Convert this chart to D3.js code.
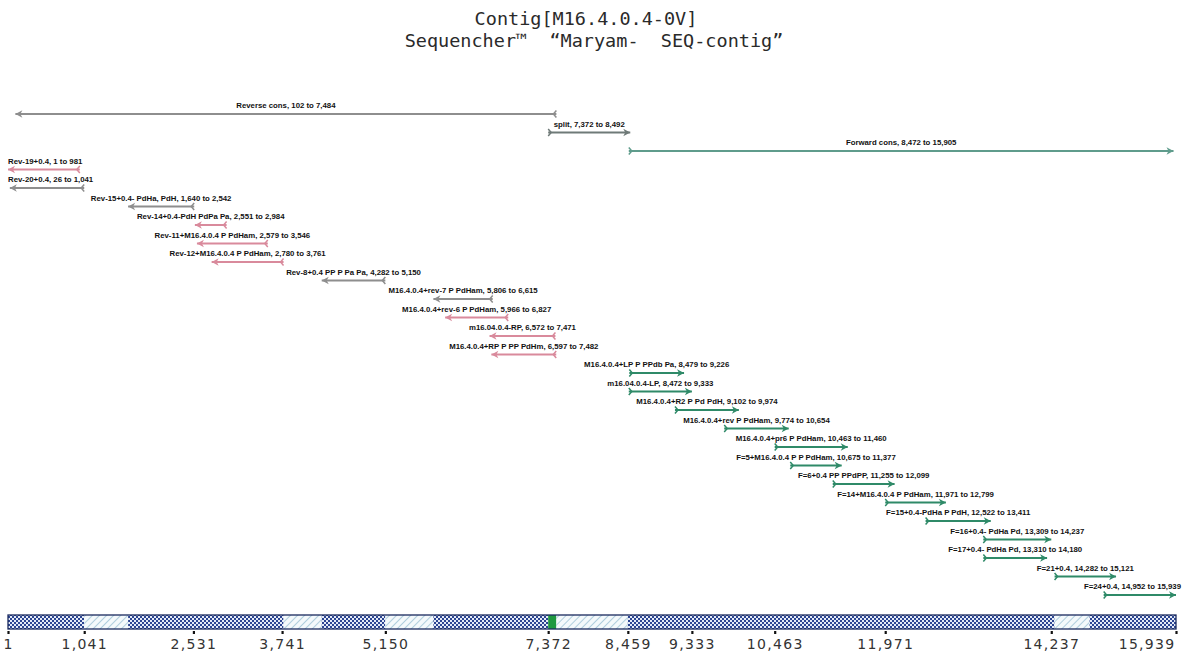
<!DOCTYPE html>
<html>
<head>
<meta charset="utf-8">
<script src="https://cdn.jsdelivr.net/npm/d3@7"></script>
<style>
  html, body { margin: 0; padding: 0; background: #fff; }
  svg { display: block; }
  .title { white-space: pre; }
</style>
</head>
<body>
<svg id="chart" width="1186" height="655"></svg>
<script>
// Contig map: fragment names, base ranges and strand
const fragNames = [
  "Reverse cons", "split", "Forward cons",
  "Rev-19+0.4", "Rev-20+0.4", "Rev-15+0.4- PdHa, PdH",
  "Rev-14+0.4-PdH PdPa Pa", "Rev-11+M16.4.0.4  P PdHam", "Rev-12+M16.4.0.4  P PdHam",
  "Rev-8+0.4 PP P Pa Pa", "M16.4.0.4+rev-7 P  PdHam", "M16.4.0.4+rev-6 P  PdHam",
  "m16.04.0.4-RP", "M16.4.0.4+RP P PP PdHm", "M16.4.0.4+LP P PPdb Pa",
  "m16.04.0.4-LP", "M16.4.0.4+R2  P  Pd PdH", "M16.4.0.4+rev  P  PdHam",
  "M16.4.0.4+pr6  P  PdHam", "F=5+M16.4.0.4 P P PdHam", "F=6+0.4 PP PPdPP",
  "F=14+M16.4.0.4  P  PdHam", "F=15+0.4-PdHa P  PdH", "F=16+0.4-  PdHa  Pd",
  "F=17+0.4-  PdHa  Pd", "F=21+0.4", "F=24+0.4"
];
const fragStart = [
  102, 7372, 8472,
  1, 26, 1640,
  2551, 2579, 2780,
  4282, 5806, 5966,
  6572, 6597, 8479,
  8472, 9102, 9774,
  10463, 10675, 11255,
  11971, 12522, 13309,
  13310, 14282, 14952
];
const fragEnd = [
  7484, 8492, 15905,
  981, 1041, 2542,
  2984, 3546, 3761,
  5150, 6615, 6827,
  7471, 7482, 9226,
  9333, 9974, 10654,
  11460, 11377, 12099,
  12799, 13411, 14237,
  14180, 15121, 15939
];
// r = reverse strand, f = forward strand
const fragStrand = [
  "r", "f", "f",
  "r", "r", "r",
  "r", "r", "r",
  "r", "r", "r",
  "r", "r", "f",
  "f", "f", "f",
  "f", "f", "f",
  "f", "f", "f",
  "f", "f", "f"
];
// colour group of each fragment line
const fragGroup = [
  "grey", "dark", "teal",
  "pink", "grey", "grey",
  "pink", "pink", "pink",
  "grey", "grey", "pink",
  "pink", "pink", "green",
  "green", "green", "green",
  "green", "green", "green",
  "green", "green", "green",
  "green", "green", "green"
];

// Coverage bar segments along the consensus
const segStart = [1, 1041, 1640, 3761, 4282, 5150, 5806, 7372, 7484, 8459, 14282, 14760];
const segEnd   = [1041, 1640, 3761, 4282, 5150, 5806, 7372, 7484, 8459, 14282, 14760, 15939];
const segKind  = ["dense", "light", "dense", "light", "dense", "light", "dense", "mark", "light", "dense", "light", "dense"];

const tickValues = [1, 1041, 2531, 3741, 5150, 7372, 8459, 9333, 10463, 11971, 14237, 15939];

const titleLines = ["Contig[M16.4.0.4-0V]", "Sequencher™  “Maryam-  SEQ-contig”"];

const colors = { grey: "#8e8e8e", pink: "#d98a9c", dark: "#6f7a78", teal: "#5f9c8c", green: "#2f8a68" };

const svg = d3.select("#chart");

const x = d3.scaleLinear().domain([1, 15939]).range([8, 1176]);
const rowY = d3.scalePoint().domain(d3.range(fragNames.length)).range([114, 595]);

// Title
svg.selectAll("text.title")
  .data(titleLines)
  .join("text")
  .attr("class", "title")
  .attr("x", (d, i) => i === 0 ? 586 : 594)
  .attr("y", (d, i) => 25 + i * 22)
  .attr("text-anchor", "middle")
  .attr("font-family", "DejaVu Sans Mono, monospace")
  .attr("font-size", 18.5)
  .attr("fill", "#2a2a2a")
  .text(d => d);

// Fragments
const frags = fragNames.map((n, i) => ({
  name: n, start: fragStart[i], end: fragEnd[i], strand: fragStrand[i], group: fragGroup[i], i
}));
const fmt = d3.format(",");

const g = svg.append("g");
const fg = g.selectAll("g.frag").data(frags).join("g").attr("class", "frag");

fg.append("line")
  .attr("x1", d => x(d.start))
  .attr("x2", d => x(d.end))
  .attr("y1", d => rowY(d.i))
  .attr("y2", d => rowY(d.i))
  .attr("stroke", d => colors[d.group])
  .attr("stroke-width", 1.8);

// arrow head at the leading end
fg.append("path")
  .attr("fill", d => colors[d.group])
  .attr("d", d => {
    const y = rowY(d.i);
    if (d.strand === "f") {
      const e = x(d.end);
      return `M${e},${y} L${e - 7},${y - 3.8} L${e - 5},${y} L${e - 7},${y + 3.8} Z`;
    }
    const s = x(d.start);
    return `M${s},${y} L${s + 7},${y - 3.8} L${s + 5},${y} L${s + 7},${y + 3.8} Z`;
  });

// small fletching at the trailing end
fg.append("path")
  .attr("fill", "none")
  .attr("stroke", d => colors[d.group])
  .attr("stroke-width", 1.5)
  .attr("d", d => {
    const y = rowY(d.i);
    if (d.strand === "f") {
      const s = x(d.start);
      return `M${s},${y - 3.5} L${s + 3},${y} L${s},${y + 3.5}`;
    }
    const e = x(d.end);
    return `M${e},${y - 3.5} L${e - 3},${y} L${e},${y + 3.5}`;
  });

// labels centred over each line, kept inside the plot
fg.append("text")
  .attr("font-family", "Liberation Sans, Arial, sans-serif")
  .attr("font-weight", "bold")
  .attr("font-size", 7.8)
  .attr("fill", "#111")
  .attr("y", d => rowY(d.i) - 6)
  .text(d => `${d.name}, ${fmt(d.start)} to ${fmt(d.end)}`)
  .each(function (d) {
    const w = this.getComputedTextLength();
    let cx = (x(d.start) + x(d.end)) / 2 - w / 2;
    cx = Math.max(8, Math.min(cx, 1181 - w));
    d3.select(this).attr("x", cx);
  });

// Coverage bar patterns
const defs = svg.append("defs");
const dense = defs.append("pattern")
  .attr("id", "dense").attr("patternUnits", "userSpaceOnUse")
  .attr("width", 4).attr("height", 4);
dense.append("rect").attr("width", 4).attr("height", 4).attr("fill", "#e4eaf6");
dense.append("rect").attr("x", 0).attr("y", 0).attr("width", 2).attr("height", 2).attr("fill", "#2c4592");
dense.append("rect").attr("x", 2).attr("y", 2).attr("width", 2).attr("height", 2).attr("fill", "#2c4592");

const light = defs.append("pattern")
  .attr("id", "light").attr("patternUnits", "userSpaceOnUse")
  .attr("width", 5).attr("height", 5)
  .attr("patternTransform", "rotate(45)");
light.append("rect").attr("width", 5).attr("height", 5).attr("fill", "#f4f9fb");
light.append("line").attr("x1", 0).attr("y1", 0).attr("x2", 0).attr("y2", 5)
  .attr("stroke", "#9fc3d6").attr("stroke-width", 1.6);

const barY = 615, barH = 14;
const segs = segStart.map((s, i) => ({ start: s, end: segEnd[i], kind: segKind[i] }));
svg.append("g").selectAll("rect")
  .data(segs)
  .join("rect")
  .attr("x", d => x(d.start))
  .attr("width", d => x(d.end) - x(d.start))
  .attr("y", barY)
  .attr("height", barH)
  .attr("fill", d => d.kind === "dense" ? "url(#dense)" : d.kind === "light" ? "url(#light)" : "#1f9940");

svg.append("rect")
  .attr("x", x(1)).attr("y", barY)
  .attr("width", x(15939) - x(1)).attr("height", barH)
  .attr("fill", "none").attr("stroke", "#1b2a5e").attr("stroke-width", 1.3);

// Axis with dot ticks
const axis = d3.axisBottom(x)
  .tickValues(tickValues)
  .tickFormat(fmt)
  .tickSize(3)
  .tickPadding(4);

const ax = svg.append("g")
  .attr("transform", `translate(0,${barY + barH + 2})`)
  .call(axis);
ax.select(".domain").remove();
ax.selectAll(".tick line").attr("stroke", "#111").attr("stroke-width", 2.2);
ax.selectAll(".tick text")
  .attr("font-family", "DejaVu Sans, sans-serif")
  .attr("font-size", 14)
  .attr("letter-spacing", "1.3px")
  .attr("fill", "#333")
  .attr("dy", "0.78em")
  .attr("text-anchor", d => d === 15939 ? "end" : "middle")
  .attr("dx", d => d === 15939 ? "-1" : "0");
</script>
</body>
</html>
